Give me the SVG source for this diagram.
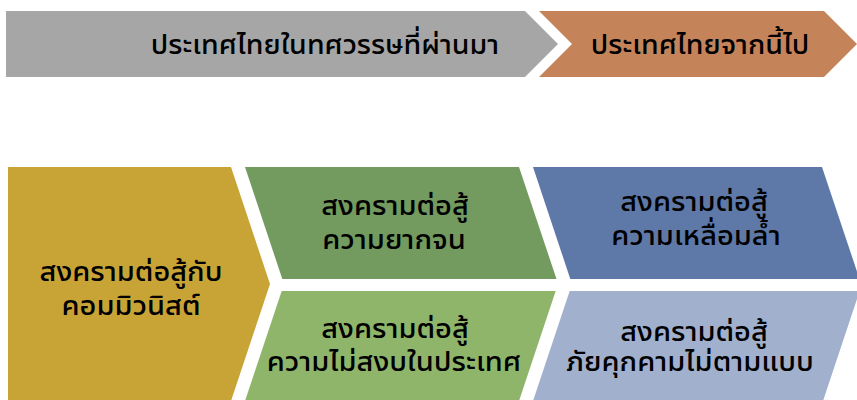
<svg xmlns="http://www.w3.org/2000/svg" width="857" height="400" viewBox="0 0 857 400">
<style>
text{font-family:"Noto Sans Thai UI","Noto Sans Thai","Noto Sans","DejaVu Sans",sans-serif;font-size:29px;font-weight:500;fill:#000;text-anchor:middle}
text.h{font-size:28.5px}
</style>
<rect width="857" height="400" fill="#fff"/>
<g id="past">
<polygon points="6,11 525,11 558,44 525,77 6,77" fill="#A6A6A6"/>
<text class="h" x="325" y="54">ประเทศไทยในทศวรรษที่ผ่านมา</text>
</g>
<g id="future">
<polygon points="539,11 824,11 857,44 824,77 539,77 572,44" fill="#C5835A"/>
<text class="h" x="700" y="54">ประเทศไทยจากนี้ไป</text>
</g>
<g id="communist">
<polygon points="8,167 231,167 270,284 231,401 8,401" fill="#C8A436"/>
<text x="131" y="281">สงครามต่อสู้กับ</text>
<text x="131" y="315">คอมมิวนิสต์</text>
</g>
<g id="poverty">
<polygon points="245,167 519,167 556.5,279 282.3,279" fill="#739A5F"/>
<text x="395" y="215">สงครามต่อสู้</text>
<text x="394" y="249">ความยากจน</text>
</g>
<g id="unrest">
<polygon points="281.7,291 555.7,291 519,401 245,401" fill="#8FB56B"/>
<text x="395" y="338">สงครามต่อสู้</text>
<text x="394" y="371">ความไม่สงบในประเทศ</text>
</g>
<g id="inequality">
<polygon points="533,167 822,167 859.5,279 570.3,279" fill="#5E79A8"/>
<text x="694" y="211">สงครามต่อสู้</text>
<text x="696" y="245">ความเหลื่อมล้ำ</text>
</g>
<g id="threats">
<polygon points="569.7,291 859.7,291 823,401 533,401" fill="#A0B0CD"/>
<text x="694" y="341">สงครามต่อสู้</text>
<text x="690" y="371">ภัยคุกคามไม่ตามแบบ</text>
</g>
<g id="connectors"/>
</svg>
